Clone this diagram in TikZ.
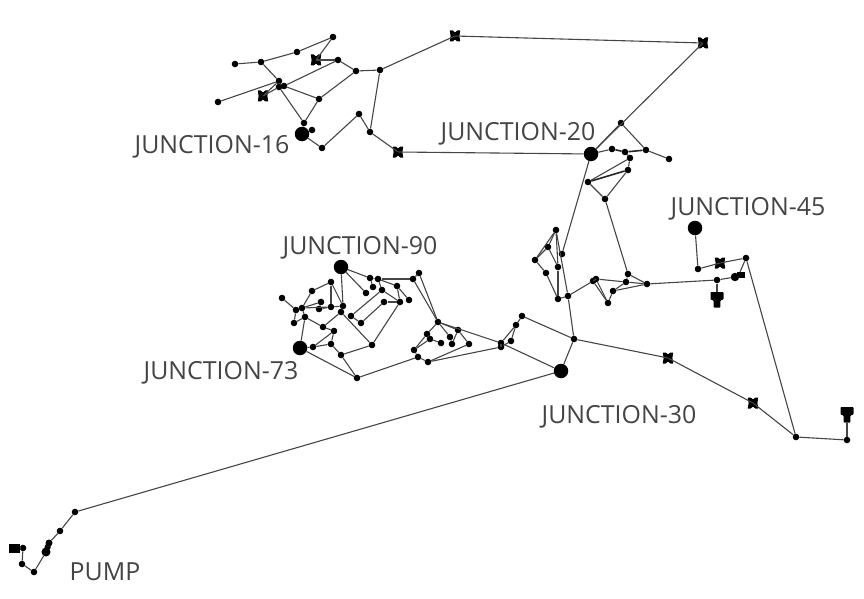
\documentclass[tikz,border=0pt]{standalone}
\usepackage{fontspec}
\setmainfont{Open Sans}
\definecolor{pipe}{HTML}{454545}
\definecolor{lab}{HTML}{444444}
\tikzset{
 x=1pt,y=-1pt,
 jn/.style={circle,fill=black,inner sep=0pt,minimum size=6.6pt},
 big/.style={circle,fill=black,inner sep=0pt,minimum size=14.5pt},
 markpt/.style={inner sep=0pt,minimum size=0pt},
 lbl/.style={text=lab,font=\fontsize{24.9}{26}\selectfont,inner sep=0pt,anchor=center},
 pipeline/.style={draw=pipe,line width=1.1pt},
 heavy/.style={draw=black!85,line width=1.6pt},
}
\newcommand{\jpts}[1]{\foreach \n/\xx/\yy in {#1}{\node[jn] (\n) at (\xx,\yy) {};}}
\newcommand{\bpts}[1]{\foreach \n/\xx/\yy in {#1}{\node[big] (\n) at (\xx,\yy) {};}}
\newcommand{\valvept}[3]{\node[markpt] (#1) at (#2,#3) {};
 \fill[black,shift={(#2,#3)}] (-5.2,-5.5) -- (-2.4,-5.5) -- (0,-3.6) -- (2.4,-5.5) -- (5.2,-5.5) -- (4.4,0) -- (5.2,5.5) -- (2.4,5.5) -- (0,3.6) -- (-2.4,5.5) -- (-5.2,5.5) -- (-4.4,0) -- cycle;}
% tank: #2,#3 = top centre of the head; #4 = y of the connecting end
\newcommand{\tankpt}[4]{\node[markpt] (#1) at (#2,#4) {};
 \fill[black,shift={(#2,#3)},rounded corners=0.8pt] (-6.5,0) -- (6.5,0) -- (6.5,7.5) -- (3.4,8.5) -- (3.4,15.5) -- (-3.4,15.5) -- (-3.4,8.5) -- (-6.5,7.5) -- cycle;}
\newcommand{\links}[1]{\foreach \p/\q in {#1}{\draw[pipeline] (\p) -- (\q);}}
\newcommand{\hlinks}[1]{\foreach \p/\q in {#1}{\draw[heavy] (\p) -- (\q);}}
\begin{document}
\begin{tikzpicture}
\useasboundingbox (0,0) rectangle (864,599);
% upper-left network
\jpts{a1/333/37,a2/297/52,a3/261/62,a4/235/64,a6/338/60,a7/356/71,a8/380/70,a9/279/81,a10/279/87,a11/284/86,a12/218/102,a14/319/99,a15/304/123,a16/312/130,a17/322/148,a18/359/114,a19/370/132}
\valvept{a5}{316}{60}
\valvept{a13}{263}{96}
\valvept{a20}{398}{152}
\valvept{v1}{455}{36}
\valvept{v2}{703}{43}
% centre-left cluster
\jpts{b1/370/278,b2/378/279,b3/413/279,b4/419/273,b5/366/293,b6/373/287,b7/382/290,b8/397/286,b9/384/302,b10/400/302,b11/409/300,b12/351/316,b13/361/323,b14/372/345,b15/341/355,b16/357/378,b19/331/282,b20/312/291,b21/282/298,b22/296/310,b23/302/308,b24/321/302,b25/319/309,b26/331/307,b27/343/306,b28/341/312,b29/305/317,b30/294/323,b31/323/327,b32/334/331,b33/331/344,b34/313/347}
% centre cluster
\jpts{c1/438/322,c2/427/334,c3/430/339,c4/441/343,c5/450/337,c6/452/344,c7/458/330,c8/469/344,c9/414/350,c10/418/357,c11/428/362,c12/501/343,c12b/501/347,c13/511/341,c14/516/325,c15/522/316,d1/574/339}
% right networks
\jpts{e1/621/123,e2/646/150,e3/669/159,e4/612/149,e5/625/152,e6/630/158,e7/628/170,e8/588/182,e9/605/199,f1/628/274,f2/626/282,f3/647/284,f4/613/291,f5/608/303,f6/596/279,f7/593/281,f8/568/296,f9/558/299,f10/562/254,f11/558/267,f12/556/230,f13/548/247,f14/535/260,f15/546/273}
\jpts{g1/698/269,g3/746/258,g4/717/280,g6/796/437,g7/847/440}
\node[jn,minimum size=8.5pt] (g5) at (735,277) {};
\valvept{g2}{720}{263}
\valvept{g8}{753}{403}
\valvept{g9}{668}{358}
\tankpt{t1}{717}{292}{292}
\tankpt{t2}{847}{407}{423}
\node[markpt] (tk) at (740,272) {};
\fill[black] (737,271.5) rectangle (745,278);
% pump end
\jpts{h1/75/512,h2/60/531,h5/34/572,h6/22/564,h7/23/548}
\node[jn,minimum size=7pt] (h3) at (49,543) {};
\node[jn,minimum size=9pt] (h4) at (46,552) {};
\node[markpt] (pm) at (20,548) {};
\fill[black] (9,543.5) rectangle (20,553);
% big junctions
\bpts{J16/302/134,J20/591/154,J45/695/228,J90/341/267,J73/300/348,J30/561/371}
% pipes
\links{a4/a3,a3/a2,a2/a1,a1/a5,a5/a6,a6/a7,a7/a8,a8/v1,v1/v2,v2/J20,a12/a9,a6/a11,a3/a9,a9/a10,a10/a15,a11/a14,a14/a15,a14/a7,a13/a10,a13/a9,J16/a17,a17/a18,a18/a19,a19/a8,a19/a20,a20/J20,a15/J16}
\links{J90/b27,J90/b1,J90/b5,b1/b6,b1/b2,b2/b3,b2/b8,b8/b11,b2/b7,b7/b10,b8/b10,b10/b9,b9/b13,b7/b12,b10/b14,b28/b14,b14/b15,b15/b33,b15/b16,J73/b16,b16/c10,J73/b34,b34/b33,b34/b32,b33/b32,b32/b31,b31/b29,b31/b28,J73/b29,b29/b23,b23/b20,b20/b19,b19/b26,b19/b27,b21/b22,b22/b23,b22/b30,b30/b29,b23/b24,b24/b25,b25/b26,b26/b27,b27/b28,b23/b26,b12/b13,b3/b4}
\links{b3/c1,b4/c1,c1/c7,c1/c2,c1/c5,c2/c3,c3/c4,c5/c6,c7/c6,c2/c9,c3/c9,c9/c10,c10/c11,c11/c8,c8/c7,c11/c12b,c1/c12,c12/J30,c12/c14,c13/c14,c13/c12b,c14/c15,c15/d1,c12/c12b,d1/J30,J30/h1}
\links{J20/e1,e1/e2,e2/e3,J20/e4,e6/e8,e6/e7,e7/e9,e8/e9,e9/f1,f1/f3,f1/f2,f6/f2,f2/f3,f3/f4,f4/f2,f4/f5,f5/f6,f5/f7,f7/f8,f8/f9,J20/f10,f12/f8,f8/d1,f12/f13,f13/f14,f14/f15,f15/f9,f13/f11,f11/f9,f12/f11,f14/f12,f6/f7}
\hlinks{e4/e5,e5/e2,e5/e6,e7/e8}
\links{f3/g4,g4/t1,g4/g5,tk/g3,J45/g1,g1/g2,g2/g3,g3/g6,g6/g7,g7/t2,d1/g9,g9/g8,g8/g6}
\links{h1/h2,h2/h3,h4/h5,h5/h6,h6/h7,h7/pm}
\draw[black,line width=6pt,line cap=round] (h3) -- (h4);
% labels
\node[lbl] (l16) at (212,147) {JUNCTION-16};
\node[lbl] (l20) at (518,134) {JUNCTION-20};
\node[lbl] (l45) at (748,209) {JUNCTION-45};
\node[lbl] (l90) at (360,248) {JUNCTION-90};
\node[lbl] (l73) at (221,373) {JUNCTION-73};
\node[lbl] (l30) at (619,417) {JUNCTION-30};
\node[lbl] (lp) at (105,572) {PUMP};
\end{tikzpicture}
\end{document}
